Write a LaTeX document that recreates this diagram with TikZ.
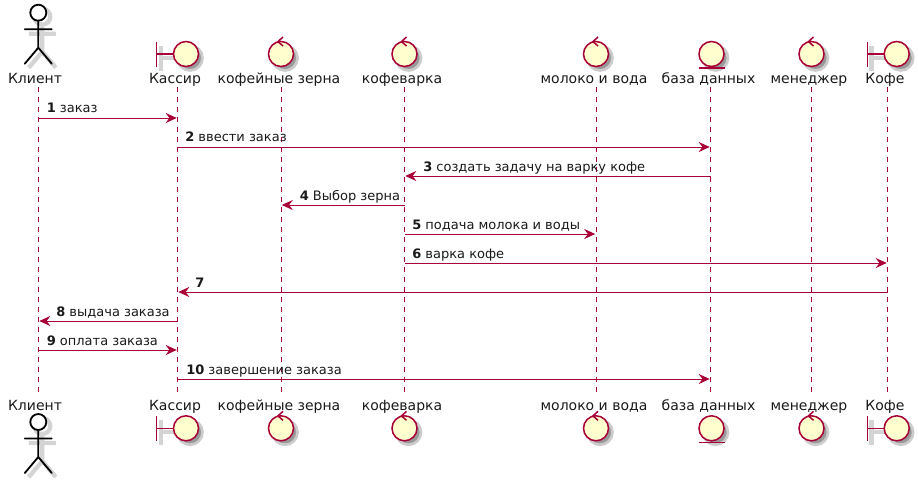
\documentclass[tikz,border=0pt]{standalone}
\usepackage{fontspec}
\setmainfont{DejaVu Sans}
\usetikzlibrary{arrows.meta}
\definecolor{umlred}{HTML}{A80036}
\definecolor{umlfill}{HTML}{FEFECE}
\tikzset{
    headlabel/.style={anchor=base, inner sep=0pt, font=\fontsize{10.5}{12}\selectfont, text=black!90},
    msglabel/.style={anchor=base west, inner sep=0pt, font=\fontsize{9.75}{12}\selectfont, text=black!90},
    lifeline/.style={line width=0.75pt, umlred, dash pattern=on 3.75pt off 3.75pt},
    msgline/.style={line width=0.75pt, umlred, shorten >=0.6pt, -{Stealth[length=8.25pt, width=7.5pt, inset=2.8pt]}},
    umlshape/.style={line width=1.15pt, umlred},
    softshadow/.style={line width=3.2pt, black!17},
    softdisc/.style={fill=black!40, draw=black!20, line width=2pt},
    actor/.pic={
        % shadow first
        \draw [softshadow] (-9.5,21) -- (17.5,21) (4,14) -- (4,39) (-9.5,55) -- (4,39) -- (17.5,55);
        \draw [softshadow] (4,4) circle (8);
        % figure
        \draw [line width=1.35pt, black, fill=white] (0,0) circle (8);
        \draw [line width=1.35pt, black, line cap=round] (-13.5,16.5) -- (13.5,16.5) (0,8) -- (0,35) (-13.5,51) -- (0,35) -- (13.5,51);
    },
    boundary/.pic={
        \draw [softshadow] (-25.3,-8.5) -- (-25.3,16.5) (-25.3,4) -- (-8.5,4);
        \draw [softdisc] (4,4) circle (12.5);
        \draw [umlshape] (-29.3,-12.5) -- (-29.3,12.5) (-29.3,0) -- (-12.5,0);
        \draw [umlshape, fill=umlfill] (0,0) circle (12.5);
    },
    control/.pic={
        \draw [softdisc] (4,4) circle (12.5);
        \draw [umlshape, fill=umlfill] (0,0) circle (12.5);
        \draw [umlshape] (2,-17) -- (-3,-12.4) -- (2,-8);
    },
    entity/.pic={
        \draw [softdisc] (4,4) circle (12.5);
        \draw [umlshape, fill=umlfill] (0,0) circle (12.5);
        \draw [umlshape] (-13,14) -- (13,14);
    },
}
\begin{document}
\begin{tikzpicture}[x=0.75pt, y=-0.75pt]
    \useasboundingbox (0,0) rectangle (918,483);

    % Drawing participant figures, top row
    \pic at (38.3,12.7) {actor};
    \pic at (186,54) {boundary};
    \pic at (281,54) {control};
    \pic at (404.5,54) {control};
    \pic at (596,54) {control};
    \pic at (711.5,54) {entity};
    \pic at (811.5,54) {control};
    \pic at (896.7,54) {boundary};

    % Drawing participant figures, bottom row
    \pic at (38.3,422) {actor};
    \pic at (186,428.3) {boundary};
    \pic at (281,428.3) {control};
    \pic at (404.5,428.3) {control};
    \pic at (596,428.3) {control};
    \pic at (711.5,428.3) {entity};
    \pic at (811.5,428.3) {control};
    \pic at (896.7,428.3) {boundary};

    % Marking lifeline ends
    \coordinate (klientTop) at (38.5,87);
    \coordinate (klientBot) at (38.5,397);
    \coordinate (kassirTop) at (177.5,87);
    \coordinate (kassirBot) at (177.5,397);
    \coordinate (zernaTop) at (281,87);
    \coordinate (zernaBot) at (281,397);
    \coordinate (kofevarkaTop) at (404.5,87);
    \coordinate (kofevarkaBot) at (404.5,397);
    \coordinate (molokoTop) at (596,87);
    \coordinate (molokoBot) at (596,397);
    \coordinate (bazaTop) at (710.5,87);
    \coordinate (bazaBot) at (710.5,397);
    \coordinate (menedzherTop) at (811.5,87);
    \coordinate (menedzherBot) at (811.5,397);
    \coordinate (kofeTop) at (887.5,87);
    \coordinate (kofeBot) at (887.5,397);

    % Drawing lifelines
    \draw [lifeline] (klientTop) -- (klientBot);
    \draw [lifeline] (kassirTop) -- (kassirBot);
    \draw [lifeline] (zernaTop) -- (zernaBot);
    \draw [lifeline] (kofevarkaTop) -- (kofevarkaBot);
    \draw [lifeline] (molokoTop) -- (molokoBot);
    \draw [lifeline] (bazaTop) -- (bazaBot);
    \draw [lifeline] (menedzherTop) -- (menedzherBot);
    \draw [lifeline] (kofeTop) -- (kofeBot);

    % Marking participant names
    \node [headlabel] (klientHead) at (35,83) {Клиент};
    \node [headlabel] (kassirHead) at (175,83) {Кассир};
    \node [headlabel] (zernaHead) at (279,83) {кофейные зерна};
    \node [headlabel] (kofevarkaHead) at (402,83) {кофеварка};
    \node [headlabel] (molokoHead) at (594,83) {молоко и вода};
    \node [headlabel] (bazaHead) at (708.5,83) {база данных};
    \node [headlabel] (menedzherHead) at (809,83) {менеджер};
    \node [headlabel] (kofeHead) at (885,83) {Кофе};
    \node [headlabel] (klientFoot) at (35,410) {Клиент};
    \node [headlabel] (kassirFoot) at (175,410) {Кассир};
    \node [headlabel] (zernaFoot) at (279,410) {кофейные зерна};
    \node [headlabel] (kofevarkaFoot) at (402,410) {кофеварка};
    \node [headlabel] (molokoFoot) at (594,410) {молоко и вода};
    \node [headlabel] (bazaFoot) at (708.5,410) {база данных};
    \node [headlabel] (menedzherFoot) at (809,410) {менеджер};
    \node [headlabel] (kofeFoot) at (885,410) {Кофе};

    % Marking message rows
    \coordinate (row1) at (0,118);
    \coordinate (row2) at (0,147);
    \coordinate (row3) at (0,176);
    \coordinate (row4) at (0,205);
    \coordinate (row5) at (0,234);
    \coordinate (row6) at (0,263);
    \coordinate (row7) at (0,292);
    \coordinate (row8) at (0,321);
    \coordinate (row9) at (0,350);
    \coordinate (row10) at (0,379);

    % Drawing messages
    \draw [msgline] (klientTop |- row1) -- (kassirTop |- row1);
    \draw [msgline] (kassirTop |- row2) -- (bazaTop |- row2);
    \draw [msgline] (bazaTop |- row3) -- (kofevarkaTop |- row3);
    \draw [msgline] (kofevarkaTop |- row4) -- (zernaTop |- row4);
    \draw [msgline] (kofevarkaTop |- row5) -- (molokoTop |- row5);
    \draw [msgline] (kofevarkaTop |- row6) -- (kofeTop |- row6);
    \draw [msgline] (kofeTop |- row7) -- (kassirTop |- row7);
    \draw [msgline] (kassirTop |- row8) -- (klientTop |- row8);
    \draw [msgline] (klientTop |- row9) -- (kassirTop |- row9);
    \draw [msgline] (kassirTop |- row10) -- (bazaTop |- row10);

    % Marking message texts
    \node [msglabel] (msgA) at (46.5,112.5) {\textbf{1} заказ};
    \node [msglabel] (msgB) at (185,141.5) {\textbf{2} ввести заказ};
    \node [msglabel] (msgC) at (423,171) {\textbf{3} создать задачу на варку кофе};
    \node [msglabel] (msgD) at (299.5,200) {\textbf{4} Выбор зерна};
    \node [msglabel] (msgE) at (412,229) {\textbf{5} подача молока и воды};
    \node [msglabel] (msgF) at (412,258) {\textbf{6} варка кофе};
    \node [msglabel] (msgG) at (195,287) {\textbf{7}};
    \node [msglabel] (msgH) at (56,316) {\textbf{8} выдача заказа};
    \node [msglabel] (msgI) at (46.5,345) {\textbf{9} оплата заказа};
    \node [msglabel] (msgJ) at (186,374) {\textbf{10} завершение заказа};
\end{tikzpicture}
\end{document}
